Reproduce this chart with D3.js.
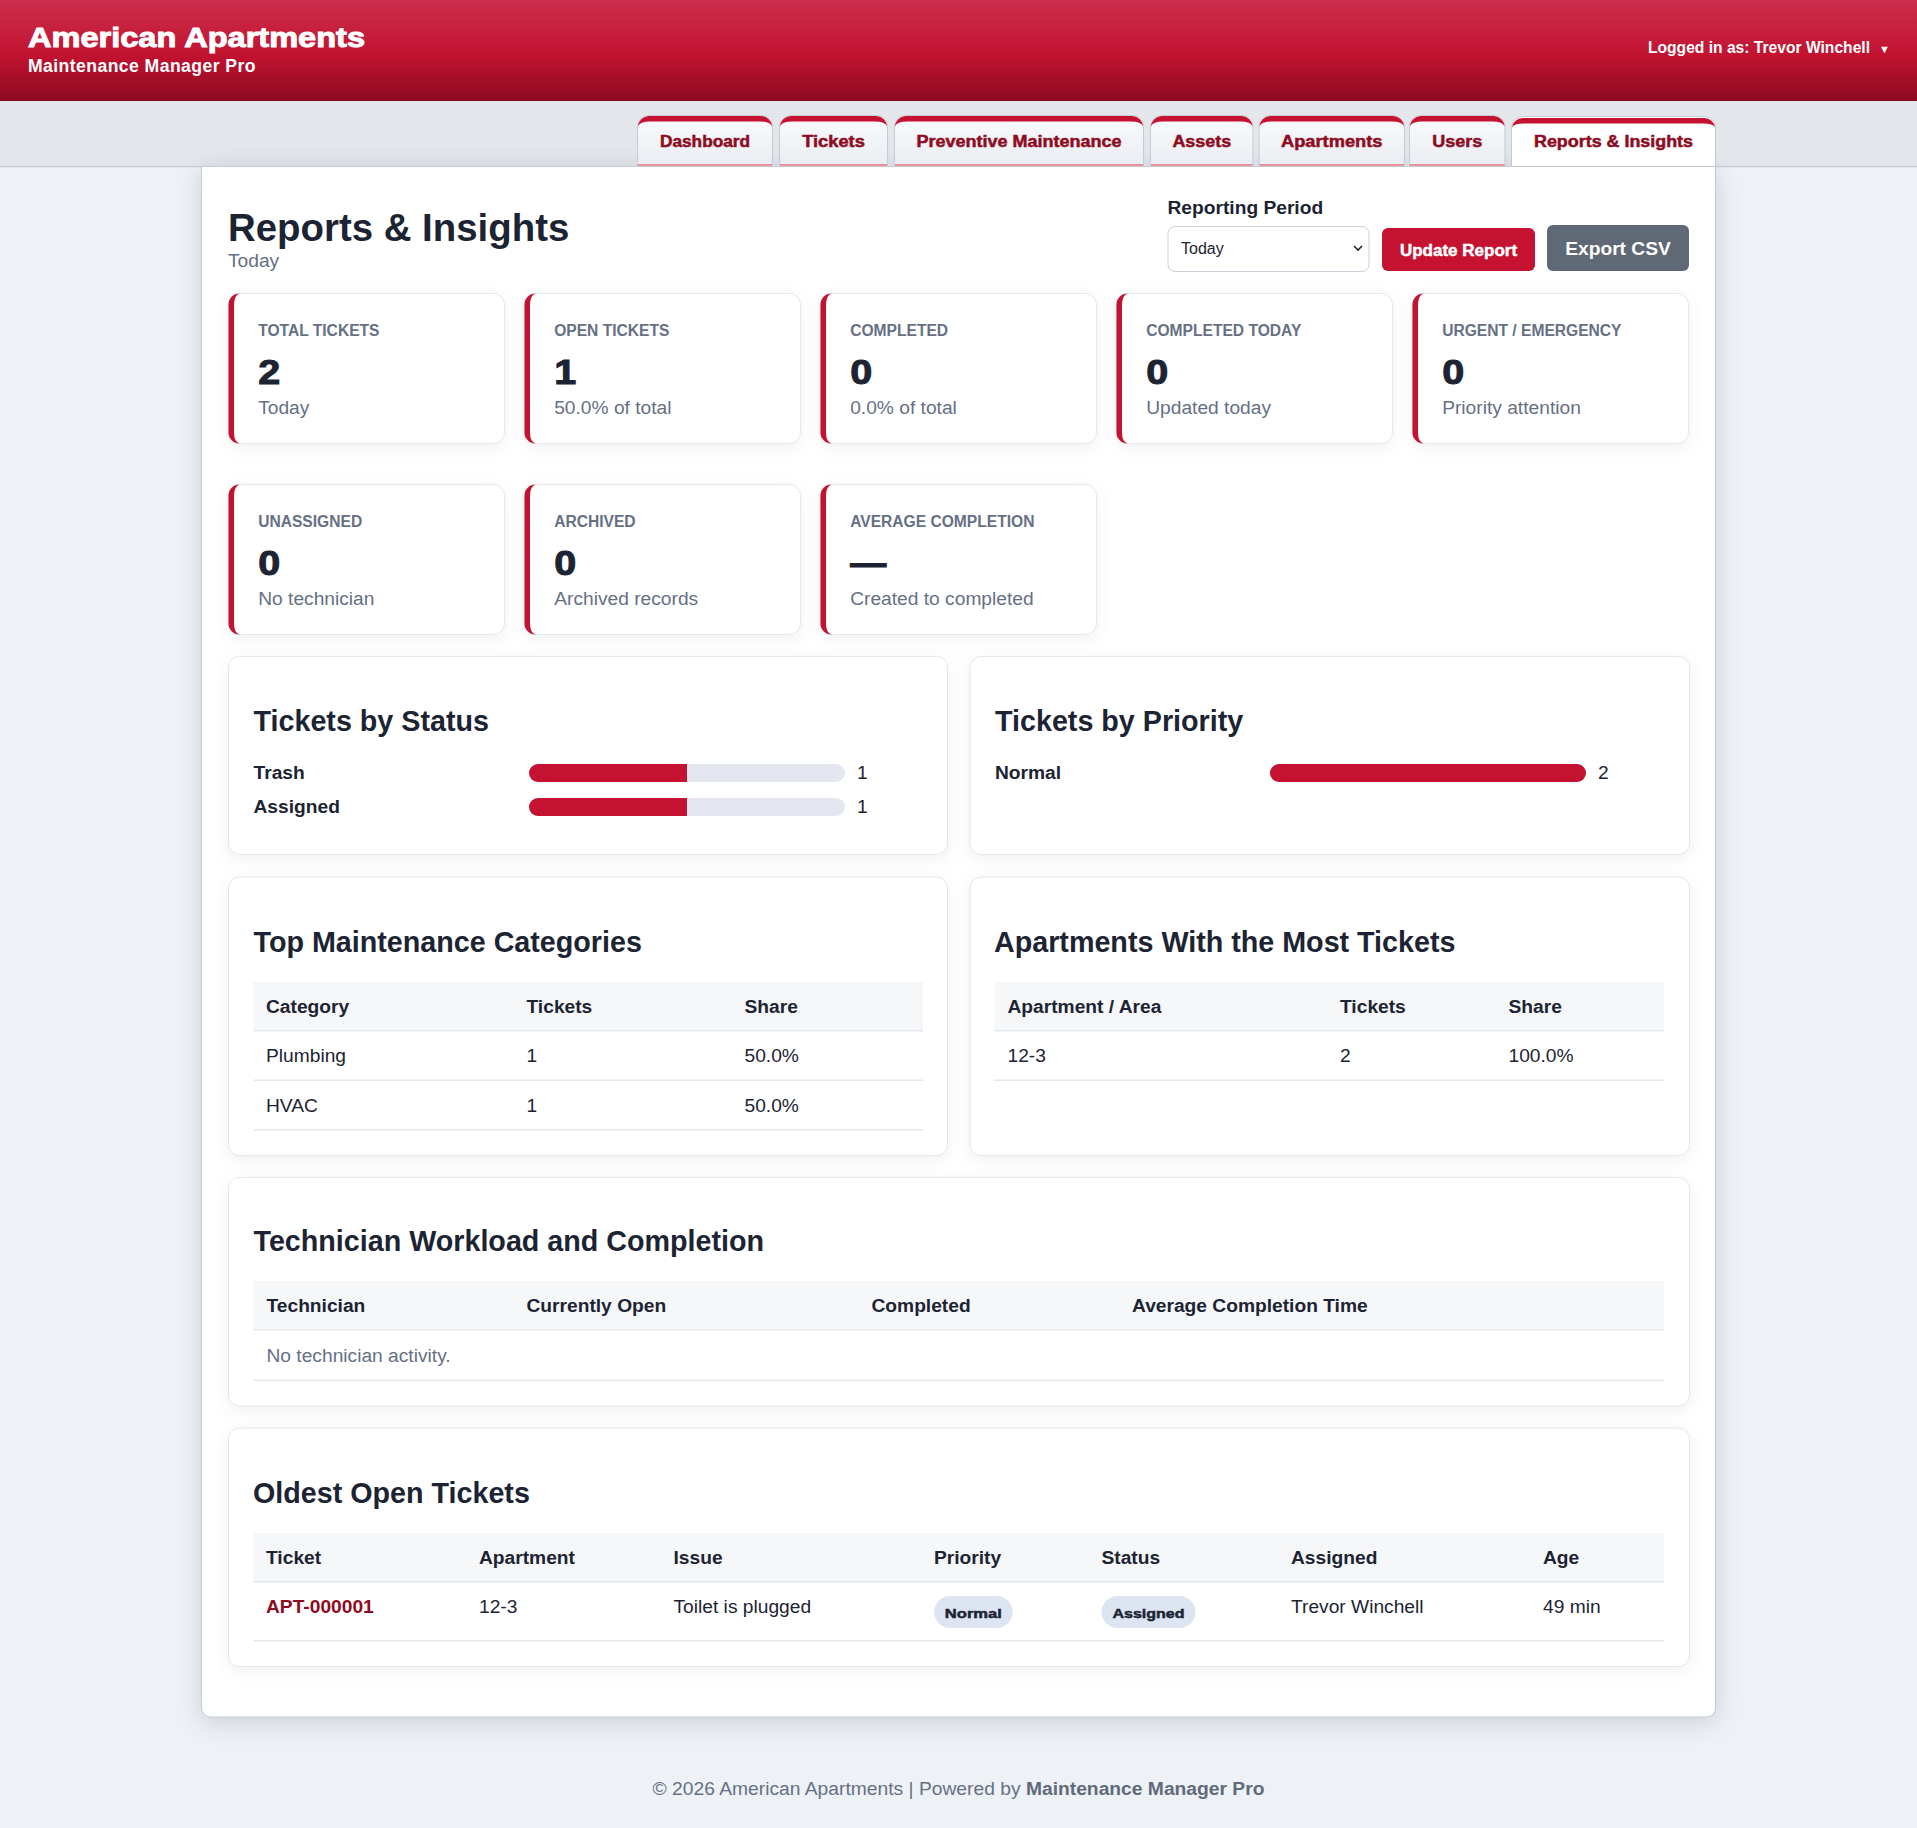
<!DOCTYPE html>
<html><head><meta charset="utf-8">
<script src="https://cdn.jsdelivr.net/npm/d3@7"></script>
<style>
html,body{margin:0;padding:0;background:#eef1f6;}
svg{display:block;font-family:"Liberation Sans",Arial,sans-serif;}
.shadow{filter:drop-shadow(0 4px 7px rgba(30,40,60,.07));}
.mainshadow{filter:drop-shadow(0 5px 12px rgba(30,40,60,.16));}
</style></head><body><div id="app"></div>
<script>
const tabLabels=["Dashboard","Tickets","Preventive Maintenance","Assets","Apartments","Users","Reports & Insights"];
const kpiLabels=["TOTAL TICKETS","OPEN TICKETS","COMPLETED","COMPLETED TODAY","URGENT / EMERGENCY","UNASSIGNED","ARCHIVED","AVERAGE COMPLETION"];
const kpiValues=["2","1","0","0","0","0","0","—"];
const kpiNotes=["Today","50.0% of total","0.0% of total","Updated today","Priority attention","No technician","Archived records","Created to completed"];
const statusLabels=["Trash","Assigned"];
const statusValues=[1,1];
const priorityLabels=["Normal"];
const priorityValues=[2];
const categoryHead=["Category","Tickets","Share"];
const categoryRows=[["Plumbing","1","50.0%"],["HVAC","1","50.0%"]];
const apartmentHead=["Apartment / Area","Tickets","Share"];
const apartmentRows=[["12-3","2","100.0%"]];
const techHead=["Technician","Currently Open","Completed","Average Completion Time"];
const techEmpty="No technician activity.";
const oldestHead=["Ticket","Apartment","Issue","Priority","Status","Assigned","Age"];
const oldestRow=["APT-000001","12-3","Toilet is plugged","Normal","Assigned","Trevor Winchell","49 min"];

const W=1917,H=1828;
const INK="#1c2433",GREY="#667085",RED="#c41230",DARK="#8f0b22",LINE="#e4e7ee";
const svg=d3.select("#app").append("svg").attr("width",W).attr("height",H).attr("viewBox",`0 0 ${W} ${H}`);
const defs=svg.append("defs");
function grad(id,stops){const g=defs.append("linearGradient").attr("id",id).attr("x1",0).attr("x2",0).attr("y1",0).attr("y2",1);
  stops.forEach(s=>g.append("stop").attr("offset",s[0]).attr("stop-color",s[1]));}
grad("hdr",[[0,"#cb2f4c"],[0.55,"#c21230"],[1,"#8c0b20"]]);
grad("tab",[[0,"#fbfbfd"],[1,"#e9ecf1"]]);
function T(g,x,y,s,o={}){
  const fill=o.fill||INK;
  const e=g.append("text").attr("x",x).attr("y",y).text(s)
   .attr("font-size",o.size||19.2).attr("font-weight",o.w||400).attr("fill",fill);
  if(o.anchor)e.attr("text-anchor",o.anchor);
  if(o.ls)e.attr("letter-spacing",o.ls);
  if(o.stroke)e.attr("stroke",fill).attr("stroke-width",o.stroke);
  if(o.len)e.attr("textLength",o.len).attr("lengthAdjust","spacingAndGlyphs");
  return e;
}
function R(g,x,y,w,h,r,fill,stroke){
  const e=g.append("rect").attr("x",x).attr("y",y).attr("width",w).attr("height",h).attr("rx",r).attr("fill",fill);
  if(stroke)e.attr("stroke",stroke);return e;
}
// page
R(svg,0,0,W,H,0,"#eef1f6");
R(svg,0,0,W,101,0,"url(#hdr)");
R(svg,0,101,W,66,0,"#e3e6eb");
T(svg,28,46.7,"American Apartments",{size:28.4,w:700,fill:"#fff",stroke:1,len:337});
T(svg,28,71.5,"Maintenance Manager Pro",{size:17.6,w:700,fill:"#fff",ls:.43});
T(svg,1648,52.7,"Logged in as: Trevor Winchell",{size:16,w:700,fill:"#fff",len:222});
T(svg,1879,52.5,"▼",{size:11,w:700,fill:"#fff"});

// main card
svg.append("path").attr("class","mainshadow").attr("fill","#fff").attr("stroke","#c5cad3")
  .attr("d","M201.5,166.5V1708A9,9 0 0 0 210.5,1717H1706.5A9,9 0 0 0 1715.5,1708V166.5Z");

// tabs
const tabX=[637.5,779.5,894.5,1150.5,1259,1409.5,1511.5];
const tabR=[772.5,887.5,1143.5,1253,1404.5,1505,1715.5];
const tabTextLen=[90,62.7,205,58.7,101.5,50,159];
tabLabels.forEach((lab,i)=>{
  const active=i===tabLabels.length-1;
  const x=tabX[i],x2=tabR[i],y=active?116.5:115.5,b=166,r=11;
  const outline=`M${x},${b}V${y+r}A${r},${r} 0 0 1 ${x+r},${y}H${x2-r}A${r},${r} 0 0 1 ${x2},${y+r}V${b}`;
  svg.append("path").attr("d",outline+"Z").attr("fill",active?"#fff":"url(#tab)");
  svg.append("path").attr("d",outline).attr("fill","none").attr("stroke","#c5cad3");
  const band=5.5,t=y+(active?1.5:.5);
  svg.append("path").attr("d",`M${x+.5},${y+r}A${r},${r} 0 0 1 ${x+r},${t}H${x2-r}A${r},${r} 0 0 1 ${x2-.5},${y+r}Q${x2-2},${t+band} ${x2-r-2},${t+band}H${x+r+2}Q${x+2},${t+band} ${x+.5},${y+r}Z`).attr("fill",RED);
  if(!active)R(svg,x+.5,b-2,x2-x-1,2,0,"#e8929e");
  T(svg,(x+x2)/2,146.7,lab,{size:16,w:700,fill:DARK,anchor:"middle",stroke:.5,len:tabTextLen[i]});
});
R(svg,0,166,201.5,1.3,0,"#c5cad3");
R(svg,1715.5,166,W-1715.5,1.3,0,"#c5cad3");

// page heading & controls
T(svg,228,240.5,"Reports & Insights",{size:38.4,w:700});
T(svg,228,266.5,"Today",{fill:GREY});
T(svg,1167.5,213.5,"Reporting Period",{w:700});
R(svg,1168,226.5,201,45,7,"#fff","#cbd2dc");
T(svg,1181,254,"Today",{size:16});
svg.append("path").attr("d","M1354,246l4,4l4,-4").attr("fill","none").attr("stroke",INK).attr("stroke-width",1.6);
R(svg,1382,228,153,43,6,RED);
T(svg,1458.5,256,"Update Report",{size:17,w:700,fill:"#fff",anchor:"middle",stroke:.45});
R(svg,1547,225,142,46,6,"#5f6875");
T(svg,1618,254.5,"Export CSV",{w:700,fill:"#fff",anchor:"middle"});

// KPI cards
const kpiX=d3.scaleBand().domain(d3.range(5)).range([228.5,1688.5]).paddingInner(0.0675);
const kpiY=d3.scaleBand().domain([0,1]).range([293.5,634.5]).paddingInner(0.215);
kpiLabels.forEach((lab,i)=>{
  const x=kpiX(i%5),y=kpiY(Math.floor(i/5)),w=kpiX.bandwidth(),h=kpiY.bandwidth(),r=11,b=5.5;
  const g=svg.append("g");
  R(g,x,y,w,h,r,"#fff",LINE).attr("class","shadow");
  g.append("path").attr("d",`M${x+r},${y}A${r},${r} 0 0 0 ${x},${y+r}V${y+h-r}A${r},${r} 0 0 0 ${x+r},${y+h}Q${x+b},${y+h-2} ${x+b},${y+h-r}V${y+r}Q${x+b},${y+2} ${x+r},${y}Z`).attr("fill",RED);
  T(g,x+29.7,y+42.5,lab,{size:15.6,w:700,fill:GREY});
  const dash=kpiValues[i]==="—";
  T(g,x+29.7,y+90.7,kpiValues[i],{size:35,w:700,stroke:1,len:dash?36:22});
  T(g,x+29.7,y+120.5,kpiNotes[i],{fill:GREY});
});

// panels
function panel(x,y,x2,y2,title,tx,ty){
  const g=svg.append("g");
  R(g,x,y,x2-x,y2-y,11,"#fff",LINE).attr("class","shadow");
  T(g,tx,ty,title,{size:28.7,w:700});
  return g;
}
function barPanel(x,x2,title,labels,values,tx0,trackX){
  const g=panel(x,656.5,x2,854.5,title,tx0,730.8);
  const total=d3.sum(values);
  const sx=d3.scaleLinear().domain([0,total]).range([trackX,trackX+316]);
  const sy=d3.scaleBand().domain(d3.range(2)).range([764,816]).paddingInner(16/34);
  labels.forEach((lab,i)=>{
    const id="clip"+title.replace(/\W/g,"")+i,y=sy(i),h=sy.bandwidth();
    defs.append("clipPath").attr("id",id).append("rect").attr("x",sx(0)).attr("y",y).attr("width",sx(total)-sx(0)).attr("height",h).attr("rx",h/2);
    R(g,sx(0),y,sx(total)-sx(0),h,h/2,"#e4e7ef");
    R(g,sx(0),y,sx(values[i])-sx(0),h,0,RED).attr("clip-path",`url(#${id})`);
    T(g,tx0,y+14.5,lab,{w:700});
    T(g,sx(total)+12,y+14.5,values[i]);
  });
}
barPanel(228.5,947.5,"Tickets by Status",statusLabels,statusValues,253.5,529);
barPanel(970,1689.5,"Tickets by Priority",priorityLabels,priorityValues,995,1270);

function table(g,x,x2,yh,hh,cols,head,rows,rowH){
  R(g,x,yh,x2-x,hh,0,"#f6f7f9");
  R(g,x,yh+hh-1,x2-x,1.5,0,LINE);
  head.forEach((h,i)=>T(g,cols[i],yh+31,h,{w:700}));
  rows.forEach((row,j)=>{
    const ly=yh+hh+(j+1)*rowH;
    R(g,x,ly-1,x2-x,1.5,0,LINE);
    row.forEach((c,i)=>T(g,cols[i],yh+hh+j*rowH+31,c));
  });
}
let g=panel(228.5,877,947.5,1155.5,"Top Maintenance Categories",253.5,952);
table(g,253.5,923,982,49,[266,526.5,744.5],categoryHead,categoryRows,49.5);
g=panel(970,877,1689.5,1155.5,"Apartments With the Most Tickets",994,952);
table(g,994.5,1664,982,49,[1007.5,1340,1508.5],apartmentHead,apartmentRows,49.5);
g=panel(228.5,1177.5,1689.5,1406,"Technician Workload and Completion",253.5,1251);
table(g,253.5,1664,1281,49,[266.5,526.5,871.5,1132],techHead,[],49.5);
T(g,266.5,1362,techEmpty,{fill:GREY});
R(g,253.5,1379.5,1410.5,1.5,0,LINE);
g=panel(228.5,1428,1689.5,1666.5,"Oldest Open Tickets",253,1503);
const oc=[266,479,673.5,934,1101.5,1291,1543];
table(g,253.5,1664,1533,49,oc,oldestHead,[],49.5);
R(g,253.5,1640,1410.5,1.5,0,LINE);
oldestRow.forEach((c,i)=>{
  if(i===3||i===4){
    const w=i===3?78.7:94;
    R(g,oc[i],1596,w,32,16,"#dce5f1");
    T(g,oc[i]+w/2,1617.5,c,{size:13.7,w:700,anchor:"middle",stroke:.5,len:i===3?57:72});
  } else if(i===0) T(g,oc[i],1612.5,c,{w:700,fill:DARK});
  else T(g,oc[i],1612.5,c);
});

// footer
const f=T(svg,958.5,1795,"© 2026 American Apartments | Powered by ",{size:19.25,fill:GREY,anchor:"middle"});
f.append("tspan").attr("font-weight",700).attr("fill","#5f6b7a").text("Maintenance Manager Pro");
</script></body></html>
